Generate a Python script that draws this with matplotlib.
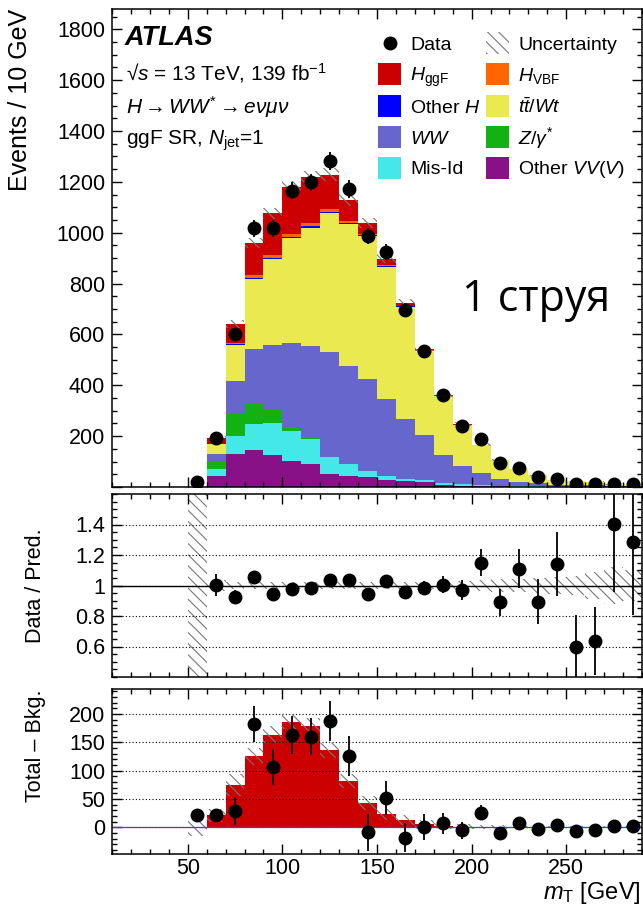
import numpy as np
import matplotlib
matplotlib.use("Agg")
import matplotlib.pyplot as plt
from matplotlib.patches import Rectangle
from matplotlib.lines import Line2D
from matplotlib.ticker import MultipleLocator, FixedLocator, FuncFormatter

plt.rcParams['font.family'] = ['Liberation Sans', 'DejaVu Sans']
plt.rcParams['mathtext.fontset'] = 'custom'
plt.rcParams['mathtext.rm'] = 'Liberation Sans'
plt.rcParams['mathtext.it'] = 'Liberation Sans:italic'
plt.rcParams['mathtext.bf'] = 'Liberation Sans:bold'
plt.rcParams['hatch.linewidth'] = 0.8
plt.rcParams['hatch.color'] = '#777777'

# ---------------- data ----------------
bin_edges = [50, 60, 70, 80, 90, 100, 110, 120, 130, 140, 150, 160, 170, 180,
             190, 200, 210, 220, 230, 240, 250, 260, 270, 280, 290]
bin_centers = [55, 65, 75, 85, 95, 105, 115, 125, 135, 145, 155, 165, 175, 185,
               195, 205, 215, 225, 235, 245, 255, 265, 275, 285]

other_vv = [0, 45, 130, 144, 125, 102, 92, 52, 42, 40, 29, 24, 20, 7, 5, 4, 2, 1.5, 1, 0.7, 0.5, 0.5, 0.3, 0.3]
mis_id = [0, 26, 69, 105, 127, 117, 98, 65, 47, 22, 13, 9, 7, 8, 6, 3, 2, 1.5, 1, 0.5, 0.5, 0.3, 0.2, 0.2]
z_gamma = [0, 30, 94, 78, 52, 15, 3, 0, 0, 0, 0, 0, 0, 0, 0, 0, 0, 0, 0, 0, 0, 0, 0, 0]
ww = [0, 29, 122, 216, 253, 334, 360, 415, 386, 364, 305, 235, 177, 111, 73, 50, 28, 18, 12, 7.8, 7, 6, 3, 3.5]
ttbar_wt = [0, 40, 144, 275, 338, 412, 467, 544, 558, 561, 520, 441, 331, 232, 161, 108, 74, 48, 32, 19, 14, 13, 5.7, 6]
other_h = [0, 0.5, 3, 4, 5, 3, 5, 4, 5, 4, 2, 1, 1, 0.5, 0.3, 0.2, 0.1, 0.1, 0, 0, 0, 0, 0, 0]
h_vbf = [0, 0.5, 3, 12, 13, 12, 15, 13, 8, 5, 5, 3, 1, 0.5, 0.3, 0.2, 0.1, 0.1, 0, 0, 0, 0, 0, 0]
h_ggf = [0, 21, 75, 125, 163, 186, 179, 136, 82, 43, 23, 12.5, 5.5, 2.5, 1.5, 0.5, 0.5, 0.3, 0.2, 0.2, 0.1, 0.1, 0.1, 0.1]

data = [20, 193, 600, 1017, 1017, 1165, 1199, 1282, 1171, 988, 924, 698, 534, 362,
        239, 189, 93, 76, 40, 31, 13, 13, 13, 13]
data_err = [5, 12, 24, 32, 32, 33, 33, 35, 35, 32, 30, 26, 23, 18, 15, 13, 10, 9, 6, 5.5,
            3.6, 3.6, 3.6, 3.6]

ratio = [np.nan, 1.003, 0.924, 1.054, 0.944, 0.977, 0.983, 1.039, 1.034, 0.946, 1.027,
         0.955, 0.983, 1.005, 0.972, 1.149, 0.889, 1.111, 0.895, 1.138, 0.598, 0.636,
         1.406, 1.285]
ratio_err = [np.nan, 0.07, 0.045, 0.035, 0.035, 0.03, 0.03, 0.03, 0.03, 0.035, 0.035,
             0.04, 0.045, 0.055, 0.065, 0.088, 0.09, 0.13, 0.15, 0.21, 0.21, 0.22, 0.45, 0.48]
ratio_unc = [10.0, 0.035, 0.025, 0.02, 0.02, 0.02, 0.02, 0.02, 0.02, 0.02, 0.02, 0.02,
             0.025, 0.025, 0.03, 0.035, 0.04, 0.045, 0.05, 0.055, 0.065, 0.09, 0.12, 0.1]

diff = [22, 21, 29, 182, 106, 163, 160, 187, 126, -9, 52, -18, 0, 7, -5, 26, -10, 8,
        -3, 4, -6, -4, 3, 2.5]
diff_unc = [15, 12, 19, 15, 15, 12, 13, 13, 12, 12, 10, 9, 8, 5, 4, 4, 3, 3, 2, 2, 2, 2, 2, 2]

stack_names = ['Other VV', 'Mis-Id', 'Z', 'WW', 'ttbar', 'Other H', 'VBF', 'ggF']
stack_vals = [other_vv, mis_id, z_gamma, ww, ttbar_wt, other_h, h_vbf, h_ggf]
stack_cols = ['#881188', '#44E8E8', '#11B211', '#6666CC', '#EAEA50', '#0000FF', '#FF6600', '#CC0000']

# ---------------- figure ----------------
W, H = 643, 907
fig = plt.figure(figsize=(W / 100, H / 100), dpi=100)

def fx(x):
    return x / W

def fy(y):
    return 1 - y / H

L, R = 112, 642
ax1 = fig.add_axes([fx(L), fy(487), (R - L) / W, (487 - 9) / H])
ax2 = fig.add_axes([fx(L), fy(677), (R - L) / W, (677 - 494) / H])
ax3 = fig.add_axes([fx(L), fy(854), (R - L) / W, (854 - 689) / H])

edges = np.array(bin_edges, dtype=float)
centers = np.array(bin_centers, dtype=float)
HATCH = '\\\\\\'
HCOL = '#777777'
TFS = 15.5

def style(ax, show_x):
    ax.set_xlim(10, 290)
    ax.xaxis.set_major_locator(MultipleLocator(50))
    ax.xaxis.set_minor_locator(MultipleLocator(10))
    ax.tick_params(which='both', direction='in', top=True, right=True, width=1.0,
                   labelsize=TFS, pad=5)
    ax.tick_params(axis='x', pad=3)
    ax.tick_params(which='major', length=7)
    ax.tick_params(which='minor', length=3.5)
    if not show_x:
        ax.tick_params(axis='x', labelbottom=False)
    for s in ax.spines.values():
        s.set_linewidth(1.1)

# ---- top panel ----
cum = np.zeros(len(edges) - 1)
for vals, col in zip(stack_vals, stack_cols):
    v = np.array(vals, dtype=float)
    ax1.stairs(cum + v, edges, baseline=cum.copy(), fill=True, color=col, linewidth=0)
    cum = cum + v
pred = cum
unc_abs = pred * np.array(ratio_unc)
unc_abs[pred == 0] = 0
ax1.bar(centers, 2 * unc_abs, bottom=pred - unc_abs, width=10, fill=False,
        hatch=HATCH, edgecolor=HCOL, linewidth=0)
ax1.errorbar(centers, data, yerr=data_err, fmt='o', color='black', ms=9,
             elinewidth=1.3, capsize=0, zorder=5)
style(ax1, False)
ax1.set_ylim(0, 1880)
ax1.yaxis.set_major_locator(MultipleLocator(200))
ax1.yaxis.set_minor_locator(MultipleLocator(50))
ax1.yaxis.set_major_formatter(FuncFormatter(lambda v, p: '' if v <= 0 else f'{int(v)}'))
ax1.set_ylabel('Events / 10 GeV', fontsize=18, loc='top')
ax1.yaxis.set_label_coords((32 - L) / (R - L), 1.0)

# ---- ratio panel ----
ru = np.array(ratio_unc)
ax2.bar(centers, 2 * ru, bottom=1 - ru, width=10, fill=False, hatch=HATCH,
        edgecolor=HCOL, linewidth=0)
ax2.axhline(1, color='black', lw=1.0)
ax2.errorbar(centers, ratio, yerr=ratio_err, fmt='o', color='black', ms=9,
             elinewidth=1.3, capsize=0, zorder=5)
style(ax2, False)
ax2.set_ylim(0.4, 1.6)
ax2.yaxis.set_major_locator(FixedLocator([0.6, 0.8, 1.0, 1.2, 1.4]))
ax2.yaxis.set_minor_locator(MultipleLocator(0.05))
ax2.yaxis.set_major_formatter(FuncFormatter(lambda v, p: f'{v:g}'))
ax2.yaxis.grid(True, which='major', linestyle=(0, (1, 2)), color='black', lw=0.8)
ax2.set_ylabel('Data / Pred.', fontsize=15.5)
ax2.yaxis.set_label_coords((46 - L) / (R - L), 0.5)

# ---- bottom panel ----
sig = np.array(h_ggf, dtype=float)
ax3.stairs(sig, edges, baseline=0, fill=True, color='#CC0000', linewidth=0)
du = np.array(diff_unc, dtype=float)
ax3.bar(centers, 2 * du, bottom=sig - du, width=10, fill=False, hatch=HATCH,
        edgecolor=HCOL, linewidth=0)
ax3.axhline(0, color='#3344FF', lw=0.9)
ax3.errorbar(centers, diff, yerr=data_err, fmt='o', color='black', ms=9,
             elinewidth=1.3, capsize=0, zorder=5)
style(ax3, True)
ax3.set_ylim(-47, 244)
ax3.yaxis.set_major_locator(MultipleLocator(50))
ax3.yaxis.set_minor_locator(MultipleLocator(10))
ax3.yaxis.grid(True, which='major', linestyle=(0, (1, 2)), color='black', lw=0.8)
ax3.set_ylabel('Total \u2013 Bkg.', fontsize=15.5, loc='top')
ax3.yaxis.set_label_coords((46 - L) / (R - L), 1.0)
ax3.set_xlabel(r'$m_{\mathrm{T}}$ [GeV]', fontsize=17, loc='right')
ax3.xaxis.set_label_coords(0.998, -0.155)

# ---- annotations ----
fig.text(fx(125), fy(38), 'ATLAS', fontsize=19.5, fontweight='bold', fontstyle='italic',
         va='center')
fig.text(fx(126), fy(80), '\u221a' + r'$s$ = 13 TeV, 139 fb$^{\mathregular{-1}}$',
         fontsize=15, va='baseline')
fig.text(fx(126), fy(114), r'$H\rightarrow WW^{*}\rightarrow e\nu\mu\nu$', fontsize=15,
         va='baseline')
fig.text(fx(126), fy(145), r'ggF SR, $N_{\mathrm{jet}}$=1', fontsize=15, va='baseline')
fig.text(fx(462), fy(311), '1 струя', fontsize=31, family=['Open Sans', 'DejaVu Sans'],
         va='baseline')

# ---- legend (manual) ----
rows = [43, 74, 106, 137, 167.5]
col1 = [('Data', None), (r'$H_{\mathrm{ggF}}$', '#CC0000'), (r'Other $H$', '#0000FF'),
        (r'$WW$', '#6666CC'), ('Mis-Id', '#44E8E8')]
col2 = [('Uncertainty', 'hatch'), (r'$H_{\mathrm{VBF}}$', '#FF6600'),
        (r'$t\bar{t}/Wt$', '#EAEA50'), (r'$Z/\gamma^{*}$', '#11B211'),
        (r'Other $VV(V)$', '#881188')]
LFS = 14
for (sx, tx, entries) in [(378, 410, col1), (486, 518, col2)]:
    for y, (lab, c) in zip(rows, entries):
        if c is None:
            fig.add_artist(Line2D([fx(sx + 11.5)], [fy(y)], marker='o', color='black',
                                  ms=9, transform=fig.transFigure))
        elif c == 'hatch':
            fig.add_artist(Rectangle((fx(sx), fy(y + 11)), 23 / W, 22 / H, fill=False,
                                     hatch=HATCH, edgecolor=HCOL, linewidth=0,
                                     transform=fig.transFigure))
        else:
            fig.add_artist(Rectangle((fx(sx), fy(y + 11)), 23 / W, 22 / H, facecolor=c,
                                     edgecolor='none', transform=fig.transFigure))
        fig.text(fx(tx), fy(y + 7), lab, fontsize=LFS, va='baseline')

fig.savefig('out.png', dpi=100)
